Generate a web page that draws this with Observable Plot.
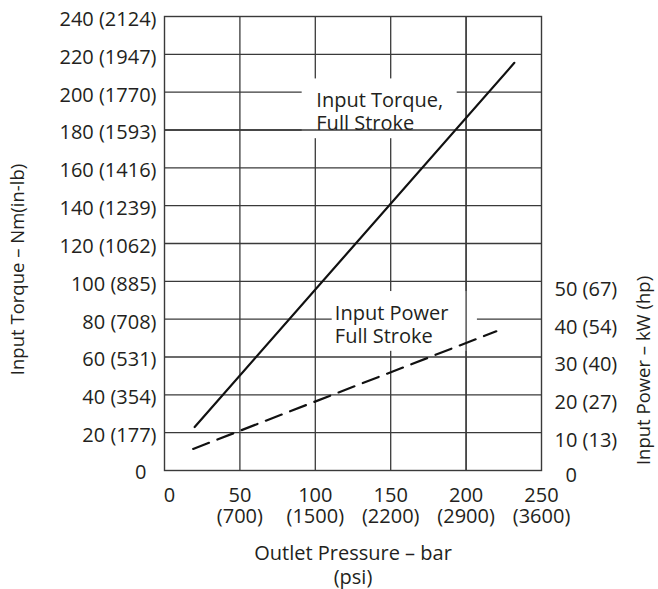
<!DOCTYPE html>
<html><head><meta charset="utf-8">
<script src="https://cdn.jsdelivr.net/npm/d3@7"></script>
<script src="https://cdn.jsdelivr.net/npm/@observablehq/plot@0.6"></script>
<style>html,body{margin:0;padding:0;background:#fff;overflow:hidden}</style>
</head><body><div id="chart"></div>
<script>
// ---- data ----
const pressureTicks = [0, 50, 100, 150, 200, 250];
const psiLabels = ["", "(700)", "(1500)", "(2200)", "(2900)", "(3600)"];
const torqueTicks = [0, 20, 40, 60, 80, 100, 120, 140, 160, 180, 200, 220, 240];
const torqueLabels = ["0", "20 (177)", "40 (354)", "60 (531)", "80 (708)", "100 (885)", "120 (1062)",
  "140 (1239)", "160 (1416)", "180 (1593)", "200 (1770)", "220 (1947)", "240 (2124)"];
const powerTicks = [0, 10, 20, 30, 40, 50];
const powerLabels = ["0", "10 (13)", "20 (27)", "30 (40)", "40 (54)", "50 (67)"];

// Input torque, full stroke (Nm) vs outlet pressure (bar)
const torquePressure = [20, 232];
const torqueValues = [23, 215.5];
// Input power, full stroke (kW) vs outlet pressure (bar)
const powerPressure = [19, 220];
const powerValues = [5.7, 36.8];

const seriesLabels = ["Input Torque,\nFull Stroke", "Input Power\nFull Stroke"];

// power axis is drawn against torque scale: 10 kW aligns with 20 Nm
const kWtoScale = 2;

// ---- build tables ----
const torqueData = torquePressure.map((p, i) => ({p, y: torqueValues[i]}));
const powerData = powerPressure.map((p, i) => ({p, y: powerValues[i] * kWtoScale}));
const torqueLabelMap = new Map(torqueTicks.map((t, i) => [t, torqueLabels[i]]));
const powerLabelMap = new Map(powerTicks.map((t, i) => [t * kWtoScale, powerLabels[i]]));
const psiMap = new Map(pressureTicks.map((t, i) => [t, psiLabels[i]]));

// annotation placement (data units)
const notes = [
  {text: seriesLabels[0], x: 100, y: 190, box: {x1: 91.3, x2: 194.1, y1: 175.4, y2: 207}},
  {text: seriesLabels[1], x: 112.3, y: 77.3, box: {x1: 111.2, x2: 207.5, y1: 63, y2: 94.6}}
];

const ink = "#231f20";
const gridColor = "#3a3a3a";
const font = "Open Sans";

const chart = Plot.plot({
  width: 658,
  height: 589,
  marginLeft: 164,
  marginRight: 117,
  marginTop: 16,
  marginBottom: 119,
  style: {fontFamily: font, fontSize: "20px", color: ink, background: "white"},
  x: {domain: [0, 250]},
  y: {domain: [0, 240]},
  marks: [
    Plot.ruleX(pressureTicks.slice(1, -1), {stroke: gridColor, strokeWidth: 1.3}),
    Plot.ruleY(torqueTicks.slice(1, -1), {stroke: gridColor, strokeWidth: 1.3}),
    Plot.rect(notes, {x1: d => d.box.x1, x2: d => d.box.x2, y1: d => d.box.y1, y2: d => d.box.y2, fill: "white"}),
    Plot.ruleY([180], {stroke: gridColor, strokeWidth: 1.3}),
    Plot.ruleX([200], {stroke: gridColor, strokeWidth: 1.3}),
    Plot.frame({stroke: gridColor, strokeWidth: 1.4}),
    Plot.line(torqueData, {x: "p", y: "y", stroke: "#111", strokeWidth: 2.2}),
    Plot.line(powerData, {x: "p", y: "y", stroke: "#111", strokeWidth: 2.2, strokeDasharray: "17,9"}),
    Plot.text(notes, {x: "x", y: "y", dx: 1, text: "text", textAnchor: "start", lineAnchor: "middle",
      lineHeight: 1.17, fontSize: 20, fill: ink, fontFamily: font}),
    // left axis
    Plot.axisY(torqueTicks.slice(1), {anchor: "left", tickSize: 0, tickPadding: 8, dy: 3,
      tickFormat: d => torqueLabelMap.get(d), fontSize: 20, label: null, fill: ink}),
    Plot.axisY([0], {anchor: "left", tickSize: 0, tickPadding: 18, dy: 2,
      tickFormat: d => torqueLabelMap.get(d), fontSize: 20, label: null, fill: ink}),
    // right axis (power)
    Plot.axisY(powerTicks.slice(1).map(t => t * kWtoScale), {anchor: "right", tickSize: 0, tickPadding: 13, dy: 8,
      tickFormat: d => powerLabelMap.get(d), fontSize: 20, label: null, fill: ink}),
    Plot.axisY([0], {anchor: "right", tickSize: 0, tickPadding: 24, dy: 5,
      tickFormat: d => powerLabelMap.get(d), fontSize: 20, label: null, fill: ink}),
    // bottom axis
    Plot.axisX(pressureTicks.slice(1), {anchor: "bottom", tickSize: 0, tickPadding: 17, lineHeight: 1.04,
      tickFormat: d => `${d}\n${psiMap.get(d)}`, fontSize: 20, label: null, fill: ink}),
    Plot.axisX([0], {anchor: "bottom", tickSize: 0, tickPadding: 17, dx: 5,
      tickFormat: d => `${d}`, fontSize: 20, label: null, fill: ink}),
    // axis titles
    Plot.text(["Outlet Pressure – bar\n(psi)"], {frameAnchor: "bottom", dy: 72, textAnchor: "middle", lineAnchor: "top",
      lineHeight: 1.2, fontSize: 20, fill: ink, fontFamily: font}),
    Plot.text(["Input Torque – Nm(in-lb)"], {frameAnchor: "left", rotate: -90, dx: -146, dy: 26,
      textAnchor: "middle", lineAnchor: "middle", fontSize: 18.5, fill: ink, fontFamily: font}),
    Plot.text(["Input Power – kW (hp)"], {frameAnchor: "right", rotate: -90, dx: 103, dy: 127,
      textAnchor: "middle", lineAnchor: "middle", fontSize: 18.5, fill: ink, fontFamily: font})
  ]
});
document.getElementById("chart").appendChild(chart);
</script>
</body></html>
